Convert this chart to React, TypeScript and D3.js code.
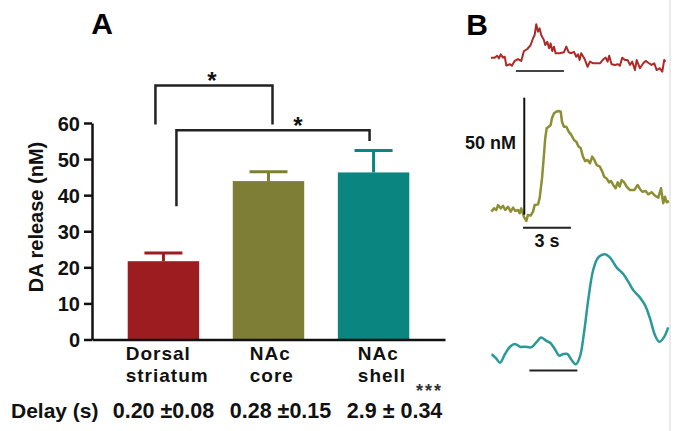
import React, { useEffect, useRef } from 'react';
import * as d3 from 'd3';

// panel A: DA release per region
const categories = ['Dorsal striatum', 'NAc core', 'NAc shell'];
const labelLines = [['Dorsal', 'striatum'], ['NAc', 'core'], ['NAc', 'shell']];
const means = [21.7, 43.9, 46.3];
const sems = [2.3, 2.6, 6.1];
const barColors = ['#9c1c20', '#7e7e36', '#0a8580'];
const yTicks = [0, 10, 20, 30, 40, 50, 60];
const delays = ['0.20 \u00b10.08', '0.28 \u00b10.15', '2.9 \u00b1 0.34'];
// significance brackets (values in nM)
const bracketFrom = [0, 0];
const bracketTo = [1, 2];
const bracketTop = [70.4, 58];
const bracketLeftEnd = [59.6, 36.9];
const bracketRightEnd = [59.6, 55];

// panel B: example traces (time in s, signal in nM above baseline)
const redT = [0, 0.23, 0.39, 0.5, 0.61, 0.75, 0.86, 0.96, 1.17, 1.31, 1.48, 1.69, 1.89, 2.06, 2.27, 2.48, 2.63, 2.73, 2.83, 2.94, 3.04, 3.14, 3.31, 3.39, 3.52, 3.63, 3.73, 3.83, 3.94, 4.04, 4.29, 4.56, 4.71, 4.86, 5.02, 5.19, 5.33, 5.44, 5.54, 5.64, 5.81, 5.88, 6.04, 6.19, 6.39, 6.81, 7.02, 7.17, 7.29, 7.39, 7.54, 7.75, 7.92, 8.06, 8.21, 8.38, 8.54, 8.69, 8.83, 9.0, 9.11, 9.31, 9.52, 9.67, 9.88, 10.04, 10.21, 10.36, 10.56, 10.71, 10.83, 10.92];
const redV = [1.0, 1.0, 1.8, 0.7, 2.4, 1.0, 1.4, -2.4, -1.8, -2.4, -0.4, 0.4, -0.4, 3.8, 4.7, 6.4, 9.3, 10.7, 15.3, 12.1, 13.5, 10.7, 8.5, 6.4, 7.8, 5.0, 7.1, 3.8, 5.7, 2.9, 2.9, 3.3, 5.7, 3.3, 2.9, 3.5, 1.4, 2.4, 0, 2.9, 1.0, 0, -2.9, -0.7, -1.4, -1.4, 0.3, 1.0, -0.7, 1.8, -1.8, -2.1, -1.8, -2.4, 1.0, 0, 0, -2.1, -0.7, -4.3, 0, -3.5, -1.4, -0.4, -1.4, -2.1, -1.4, -4.3, -3.5, -5.0, 0, -0.7];

const oliveT = [0.02, 0.19, 0.33, 0.44, 0.61, 0.75, 0.89, 1.06, 1.23, 1.38, 1.52, 1.69, 1.79, 1.89, 2.06, 2.21, 2.31, 2.48, 2.63, 2.73, 2.94, 3.04, 3.19, 3.31, 3.39, 3.48, 3.61, 3.73, 3.81, 3.94, 4.08, 4.23, 4.36, 4.44, 4.56, 4.71, 4.86, 5.02, 5.19, 5.33, 5.48, 5.61, 5.75, 5.89, 6.04, 6.19, 6.33, 6.46, 6.61, 6.81, 6.96, 7.08, 7.23, 7.38, 7.5, 7.64, 7.79, 7.92, 8.04, 8.17, 8.33, 8.48, 8.69, 8.96, 9.17, 9.31, 9.46, 9.67, 9.83, 10.04, 10.25, 10.46, 10.63, 10.77, 10.88, 10.98, 11.13];
const oliveV = [-0.7, 0.7, 0, 2.1, 0.7, 1.8, 0, 1.4, -0.7, 1.0, -0.4, 0, -1.4, 0.7, -2.9, -4.7, -2.1, -2.4, -0.7, 2.1, 2.4, 5.0, 13.5, 23.5, 30.6, 34.9, 35.6, 36.3, 39.2, 41.3, 42.0, 42.3, 42.0, 37.7, 35.6, 35.6, 33.5, 32.1, 29.9, 29.2, 27.1, 26.4, 22.8, 20.9, 21.4, 20.0, 22.8, 21.4, 19.2, 18.5, 16.4, 14.2, 13.5, 11.8, 12.4, 10.7, 9.3, 11.8, 10.0, 12.8, 11.8, 10.0, 8.5, 8.5, 10.7, 9.0, 7.8, 8.1, 6.7, 7.6, 6.1, 5.3, 9.3, 2.9, 5.7, 3.3, 3.8];

const tealT = [0.04, 0.31, 0.56, 0.88, 1.19, 1.5, 1.81, 2.13, 2.54, 2.86, 3.13, 3.44, 3.73, 4.0, 4.27, 4.52, 4.77, 5.04, 5.31, 5.56, 5.81, 6.08, 6.39, 6.71, 7.13, 7.48, 7.86, 8.27, 8.58, 8.89, 9.27, 9.63, 9.94, 10.25, 10.52, 10.81, 11.08];
const tealV = [-1.8, -3.5, -5.4, -1.7, 1.4, 2.6, 1.4, 1.4, 1.2, 3.5, 5.3, 4.0, 2.9, 0.3, -2.4, -1.7, -1.7, -4.3, -6.1, -2.9, 7.1, 21.4, 34.2, 39.6, 40.9, 39.2, 35.2, 32.5, 29.2, 25.6, 22.8, 19.2, 13.5, 6.4, 3.5, 5.4, 9.7];

const traceColors = ['#ad2a27', '#8e8e34', '#2a9a98'];
const traceBase = [60, 210, 350];
const stimStart = [1.56, 2.0, 2.4];
const stimLevel = [-4.7, -7.6, -8.8];
const stimDur = 3;

const FONT = '"Liberation Sans", Arial, sans-serif';

const App = () => {
  const svgRef = useRef<SVGSVGElement>(null);

  useEffect(() => {
    const svg = d3.select(svgRef.current);
    svg.selectAll('*').remove();

    const x = d3.scaleBand().domain(categories).range([92, 445]).paddingInner(0.32).paddingOuter(0.34);
    const y = d3.scaleLinear().domain([0, 60]).range([339.5, 123]);

    const gA = svg.append('g');

    gA.append('text')
      .attr('x', 102).attr('y', 34)
      .attr('text-anchor', 'middle')
      .style('font', `bold 30px ${FONT}`)
      .text('A');

    // bars
    gA.selectAll('rect.bar')
      .data(means)
      .enter()
      .append('rect')
      .attr('class', 'bar')
      .attr('x', (d, i) => x(categories[i])!)
      .attr('width', x.bandwidth())
      .attr('y', d => y(d))
      .attr('height', d => y(0) - y(d))
      .attr('fill', (d, i) => barColors[i]);

    // error bars (upper only)
    means.forEach((m, i) => {
      const cx = x(categories[i])! + x.bandwidth() / 2;
      gA.append('line')
        .attr('x1', cx).attr('x2', cx)
        .attr('y1', y(m)).attr('y2', y(m + sems[i]))
        .attr('stroke', barColors[i]).attr('stroke-width', 3);
      gA.append('line')
        .attr('x1', cx - 19).attr('x2', cx + 19)
        .attr('y1', y(m + sems[i])).attr('y2', y(m + sems[i]))
        .attr('stroke', barColors[i]).attr('stroke-width', 3);
    });

    // y axis
    const yAxis = gA.append('g')
      .attr('transform', 'translate(92,0)')
      .call(d3.axisLeft(y).tickValues(yTicks).tickSize(8).tickSizeOuter(0).tickPadding(4));
    yAxis.select('.domain').attr('stroke', '#111').attr('stroke-width', 2.5);
    yAxis.selectAll('.tick line').attr('stroke', '#111').attr('stroke-width', 2.5);
    yAxis.selectAll('.tick text')
      .attr('fill', '#111')
      .style('font', `bold 20px ${FONT}`)
      .attr('dy', '0.36em');

    // x axis
    const xAxis = gA.append('g')
      .attr('transform', `translate(0,${y(0)})`)
      .call(d3.axisBottom(x).tickSize(0).tickSizeOuter(0).tickFormat(() => ''));
    xAxis.select('.domain').attr('stroke', '#111').attr('stroke-width', 2.5);

    // category labels (two lines each)
    const labelDx = [-2, 17, 20];
    labelLines.forEach((lines, i) => {
      const lx = x(categories[i])! + labelDx[i];
      const t = gA.append('text')
        .attr('x', lx)
        .attr('y', 360)
        .attr('fill', '#111')
        .attr('letter-spacing', 1)
        .style('font', `bold 19px ${FONT}`);
      lines.forEach((ln, j) => {
        t.append('tspan')
          .attr('x', lx)
          .attr('dy', j === 0 ? 0 : 21.5)
          .text(ln);
      });
    });

    gA.append('text')
      .attr('x', 416).attr('y', 397)
      .attr('fill', '#333')
      .style('font', `bold 18px ${FONT}`)
      .attr('letter-spacing', 2)
      .text('***');

    // y label
    gA.append('text')
      .attr('transform', 'translate(43,217) rotate(-90)')
      .attr('text-anchor', 'middle')
      .attr('fill', '#111')
      .style('font', `bold 20px ${FONT}`)
      .text('DA release (nM)');

    // delay row
    gA.append('text')
      .attr('x', 11).attr('y', 418)
      .attr('fill', '#111')
      .style('font', `bold 21px ${FONT}`)
      .text('Delay (s)');
    const delayDx = [-15, -3, 9];
    delays.forEach((t, i) => {
      gA.append('text')
        .attr('x', x(categories[i])! + delayDx[i]).attr('y', 418)
        .attr('fill', '#111')
        .style('font', `bold 21.5px ${FONT}`)
        .text(t);
    });

    // brackets
    const legDx = [[-8, 4], [13, -4]];
    const starDx = [-2, 25];
    bracketFrom.forEach((f, i) => {
      const x1 = x(categories[f])! + x.bandwidth() / 2 + legDx[i][0];
      const x2 = x(categories[bracketTo[i]])! + x.bandwidth() / 2 + legDx[i][1];
      const path = d3.path();
      path.moveTo(x1, y(bracketLeftEnd[i]));
      path.lineTo(x1, y(bracketTop[i]));
      path.lineTo(x2, y(bracketTop[i]));
      path.lineTo(x2, y(bracketRightEnd[i]));
      gA.append('path')
        .attr('d', path.toString())
        .attr('fill', 'none')
        .attr('stroke', '#222')
        .attr('stroke-width', 2.5);
      gA.append('text')
        .attr('x', (x1 + x2) / 2 + starDx[i])
        .attr('y', y(bracketTop[i]) + 4)
        .attr('text-anchor', 'middle')
        .attr('fill', '#111')
        .style('font', `bold 24px ${FONT}`)
        .text('*');
    });

    // panel B
    const gB = svg.append('g');
    gB.append('line')
      .attr('x1', 670).attr('x2', 670).attr('y1', 0).attr('y2', 431)
      .attr('stroke', '#e4e4e4').attr('stroke-width', 1.5);

    gB.append('text')
      .attr('x', 477).attr('y', 35)
      .attr('text-anchor', 'middle')
      .style('font', `bold 30px ${FONT}`)
      .text('B');

    const tx = d3.scaleLinear().domain([0, 11.13]).range([491, 669]);
    const traces = [
      { t: redT, v: redV, curve: d3.curveLinear, w: 2 },
      { t: oliveT, v: oliveV, curve: d3.curveLinear, w: 2.5 },
      { t: tealT, v: tealV, curve: d3.curveCatmullRom, w: 2.5 },
    ];
    traces.forEach((tr, i) => {
      const ty = d3.scaleLinear().domain([0, 50]).range([traceBase[i], traceBase[i] - 117]);
      const line = d3.line<number>()
        .x((d, k) => tx(tr.t[k]))
        .y(d => ty(d))
        .curve(tr.curve);
      gB.append('path')
        .attr('d', line(tr.v))
        .attr('fill', 'none')
        .attr('stroke', traceColors[i])
        .attr('stroke-width', tr.w)
        .attr('stroke-linejoin', 'round');
      gB.append('line')
        .attr('x1', tx(stimStart[i])).attr('x2', tx(stimStart[i] + stimDur))
        .attr('y1', ty(stimLevel[i])).attr('y2', ty(stimLevel[i]))
        .attr('stroke', i === 0 ? '#444' : '#222')
        .attr('stroke-width', 2);

      if (i === 1) {
        // 50 nM vertical scale bar
        gB.append('line')
          .attr('x1', tx(2.08)).attr('x2', tx(2.08))
          .attr('y1', ty(-2)).attr('y2', ty(48))
          .attr('stroke', '#111').attr('stroke-width', 2);
        gB.append('text')
          .attr('x', 516).attr('y', 148.5)
          .attr('text-anchor', 'end')
          .attr('fill', '#111')
          .style('font', `bold 18px ${FONT}`)
          .text('50 nM');
        gB.append('text')
          .attr('x', tx(stimStart[i] + stimDur / 2)).attr('y', 247)
          .attr('text-anchor', 'middle')
          .attr('fill', '#111')
          .style('font', `bold 18px ${FONT}`)
          .text('3 s');
      }
    });
  }, []);

  return (
    <svg
      ref={svgRef}
      width={679}
      height={431}
      style={{ position: 'absolute', left: 0, top: 0, background: '#fff' }}
    />
  );
};

export default App;
